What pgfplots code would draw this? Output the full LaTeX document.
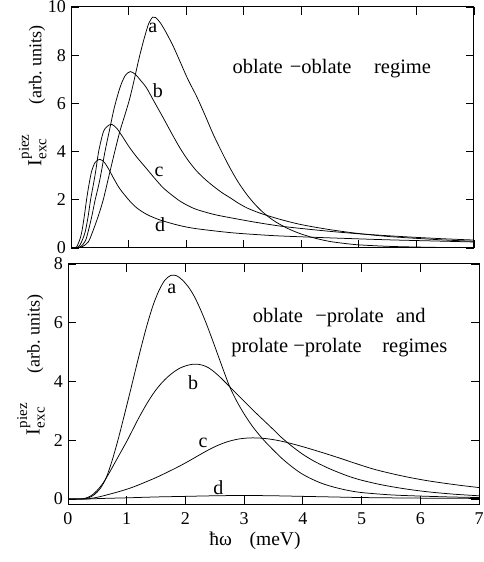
\documentclass[border=0pt]{standalone}
\usepackage{fontspec}
\setmainfont{Liberation Serif}
\usepackage{pgfplots}
\pgfplotsset{compat=1.18}

\pgfplotstableread{
x y
0 0
0.12 0
0.2 0.06
0.3 0.25
0.38 0.7
0.47 1.3
0.56 2.0
0.66 3.0
0.76 4.0
0.85 4.85
0.94 5.55
1.02 6.2
1.1 7.0
1.18 7.85
1.26 8.6
1.34 9.25
1.38 9.45
1.42 9.58
1.47 9.56
1.55 9.35
1.65 8.95
1.77 8.4
1.89 7.76
2.03 7.0
2.18 6.3
2.33 5.5
2.47 4.72
2.62 3.98
2.76 3.33
2.9 2.75
3.05 2.23
3.2 1.8
3.34 1.47
3.5 1.17
3.63 0.98
3.8 0.77
4.0 0.58
4.25 0.4
4.5 0.27
4.75 0.19
5.0 0.13
5.5 0.07
6.0 0.04
6.5 0.02
7.0 0.01
}\topa

\pgfplotstableread{
x y
0 0
0.12 0
0.18 0.08
0.25 0.3
0.3 0.7
0.36 1.3
0.42 2.0
0.48 2.6
0.53 3.2
0.59 4.0
0.665 4.85
0.75 5.8
0.85 6.65
0.94 7.15
1.03 7.32
1.12 7.2
1.2 6.98
1.31 6.65
1.45 6.05
1.6 5.41
1.75 4.75
1.89 4.16
2.03 3.65
2.18 3.2
2.33 2.85
2.47 2.57
2.62 2.3
2.76 2.09
2.9 1.87
3.05 1.67
3.2 1.52
3.34 1.40
3.63 1.19
4.0 0.97
4.5 0.76
5.0 0.6
5.5 0.48
6.0 0.4
6.5 0.33
7.0 0.28
}\topb

\pgfplotstableread{
x y
0 0
0.1 0
0.15 0.1
0.2 0.35
0.25 0.7
0.3 1.35
0.34 2.0
0.39 2.65
0.43 3.2
0.48 4.0
0.56 4.8
0.63 5.05
0.71 5.13
0.8 4.95
0.9 4.6
1.02 4.16
1.15 3.75
1.31 3.3
1.45 2.9
1.6 2.5
1.75 2.2
1.89 1.95
2.03 1.76
2.18 1.6
2.47 1.4
2.76 1.26
3.2 1.07
3.63 0.91
4.0 0.81
4.5 0.69
5.0 0.59
5.5 0.51
6.0 0.44
6.5 0.38
7.0 0.33
}\topc

\pgfplotstableread{
x y
0 0
0.08 0
0.12 0.15
0.16 0.4
0.19 0.7
0.23 1.3
0.27 2.0
0.31 2.6
0.36 3.2
0.42 3.55
0.5 3.68
0.58 3.55
0.66 3.25
0.75 2.85
0.85 2.45
1.02 1.95
1.15 1.65
1.31 1.40
1.45 1.25
1.6 1.12
1.89 0.93
2.18 0.8
2.76 0.64
3.2 0.56
3.63 0.5
4.5 0.42
5.5 0.34
6.5 0.28
7.0 0.25
}\topd

\pgfplotstableread{
x y
0 0
0.25 0
0.35 0.04
0.45 0.15
0.55 0.36
0.65 0.72
0.75 1.3
0.85 2.0
0.95 2.78
1.05 3.58
1.15 4.4
1.25 5.2
1.35 5.95
1.45 6.6
1.55 7.1
1.65 7.45
1.75 7.61
1.85 7.6
1.95 7.45
2.05 7.22
2.15 6.9
2.25 6.48
2.35 6.0
2.45 5.47
2.55 4.92
2.65 4.37
2.75 3.84
2.85 3.42
2.95 3.06
3.05 2.74
3.15 2.45
3.25 2.2
3.35 1.97
3.5 1.66
3.65 1.37
3.8 1.12
3.95 0.9
4.1 0.73
4.3 0.55
4.5 0.42
4.75 0.3
5.0 0.22
5.5 0.14
6.0 0.1
6.5 0.07
7.0 0.05
}\bota

\pgfplotstableread{
x y
0 0
0.2 0
0.3 0.03
0.4 0.12
0.5 0.3
0.6 0.55
0.7 0.88
0.8 1.24
0.9 1.6
1.0 1.96
1.1 2.35
1.2 2.74
1.3 3.1
1.4 3.43
1.5 3.72
1.6 3.96
1.7 4.16
1.8 4.32
1.9 4.45
2.0 4.53
2.1 4.58
2.2 4.59
2.3 4.55
2.4 4.46
2.5 4.31
2.6 4.13
2.7 3.93
2.8 3.73
2.9 3.53
3.0 3.33
3.1 3.13
3.2 2.93
3.3 2.74
3.4 2.55
3.5 2.36
3.6 2.16
3.72 1.95
3.85 1.74
4.0 1.52
4.18 1.3
4.4 1.08
4.6 0.91
4.8 0.76
5.0 0.64
5.3 0.5
5.6 0.39
5.9 0.3
6.2 0.23
6.6 0.16
7.0 0.11
}\botb

\pgfplotstableread{
x y
0 0
0.3 0
0.5 0.06
0.7 0.16
0.9 0.27
1.1 0.4
1.3 0.56
1.5 0.73
1.7 0.92
1.9 1.12
2.1 1.34
2.3 1.57
2.5 1.78
2.7 1.94
2.9 2.04
3.1 2.08
3.3 2.07
3.5 2.02
3.72 1.93
4.0 1.78
4.3 1.6
4.6 1.41
4.9 1.21
5.2 1.02
5.5 0.87
5.8 0.74
6.1 0.63
6.4 0.54
6.7 0.46
7.0 0.39
}\botc

\pgfplotstableread{
x y
0 0
0.3 0
0.6 0.02
1.0 0.04
1.5 0.07
2.0 0.09
2.5 0.11
3.0 0.12
3.5 0.11
4.0 0.09
4.5 0.07
5.0 0.05
6.0 0.03
7.0 0.02
}\botd

\tikzset{
  lbl/.style={font=\fontsize{20bp}{24bp}\selectfont, inner sep=0pt},
  ann/.style={font=\fontsize{20.5bp}{30bp}\selectfont, inner sep=0pt, align=center},
}
\newcommand{\Ilab}{{\fontsize{20bp}{20bp}\selectfont I}\kern0.8bp\rlap{\raisebox{-5bp}{\fontsize{15bp}{15bp}\selectfont exc}}\raisebox{12.5bp}{\fontsize{15bp}{15bp}\selectfont piez}}

\begin{document}
\begin{tikzpicture}
\useasboundingbox (0,0) rectangle (484bp,562bp);
\pgfplotsset{
  every axis/.append style={
    scale only axis, xmin=0, xmax=7, tick align=inside, major tick length=8bp,
    axis line style={line width=1bp}, tick style={line width=0.8bp, black},
    xtick={0,...,7},
    tick label style={font=\fontsize{18bp}{20bp}\selectfont},
    xticklabel style={yshift=-5bp},
    yticklabel style={xshift=-1.5bp},
    /pgf/number format/assume math mode=true,
    ylabel style={font=\fontsize{18bp}{20bp}\selectfont, inner sep=0pt, anchor=south},
  },
  curve/.style={black, line width=0.75bp, smooth, no markers},
}
% top panel
\begin{axis}[at={(71bp,314bp)}, anchor=south west, width=403bp, height=241bp,
  ymin=0, ymax=10, ytick={0,2,...,10}, xticklabel=\empty,
  ylabel={\Ilab\hspace{30bp}(arb.\ units)},
  ylabel style={at={(axis description cs:-0.06,0.63)}}]
\addplot[curve] table {\topa};
\addplot[curve] table {\topb};
\addplot[curve] table {\topc};
\addplot[curve] table {\topd};
\node[lbl] at (axis cs:1.42,9.13) {a};
\node[lbl] at (axis cs:1.51,6.51) {b};
\node[lbl] at (axis cs:1.53,3.15) {c};
\node[lbl] at (axis cs:1.55,0.95) {d};
\node[ann] at (axis cs:4.53,7.43) {oblate\hspace{0.35em}−oblate\hspace{1.1em}regime};
\end{axis}
% bottom panel
\begin{axis}[at={(68bp,58bp)}, anchor=south west, width=411bp, height=240bp,
  ymin=-0.17, ymax=8, ytick={0,2,...,8},
  xlabel={ħω\hspace{0.9em}(meV)},
  xlabel style={font=\fontsize{19.5bp}{22bp}\selectfont, inner sep=0pt, anchor=north, at={(axis description cs:0.455,-0.115)}},
  ylabel={\Ilab\hspace{30bp}(arb.\ units)},
  ylabel style={at={(axis description cs:-0.056,0.58)}}]
\addplot[curve] table {\bota};
\addplot[curve] table {\botb};
\addplot[curve] table {\botc};
\addplot[curve] table {\botd};
\node[lbl] at (axis cs:1.77,7.15) {a};
\node[lbl] at (axis cs:2.13,3.95) {b};
\node[lbl] at (axis cs:2.30,1.90) {c};
\node[lbl] at (axis cs:2.56,0.37) {d};
\node[ann] at (axis cs:4.62,5.66) {oblate\hspace{0.6em}−prolate\hspace{0.6em}and\\prolate\hspace{0.25em}−prolate\hspace{1.0em}regimes};
\end{axis}
\end{tikzpicture}
\end{document}
